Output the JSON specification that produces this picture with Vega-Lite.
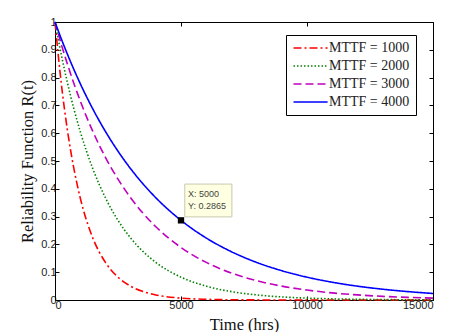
{
  "$schema": "https://vega.github.io/schema/vega-lite/v6.json",
  "width": 378,
  "height": 278,
  "autosize": "none",
  "padding": {"left": 55, "top": 22, "right": 36, "bottom": 32},
  "background": "white",
  "config": {
    "view": {"stroke": "black", "strokeWidth": 1},
    "axis": {"grid": false, "domainColor": "black", "tickColor": "black", "labelFont": "Liberation Sans", "labelFontSize": 11, "labelColor": "#222", "titleFont": "Liberation Serif", "titleFontSize": 16.5, "titleFontWeight": "normal", "titleColor": "#111", "tickSize": -4}
  },
  "resolve": {"axis": {"x": "independent", "y": "independent"}},
  "datasets": {
    "curves": [
      {"t": 0, "R": 1, "s": "MTTF = 1000"},
      {"t": 250, "R": 0.7788, "s": "MTTF = 1000"},
      {"t": 500, "R": 0.6065, "s": "MTTF = 1000"},
      {"t": 750, "R": 0.4724, "s": "MTTF = 1000"},
      {"t": 1000, "R": 0.3679, "s": "MTTF = 1000"},
      {"t": 1500, "R": 0.2231, "s": "MTTF = 1000"},
      {"t": 2000, "R": 0.1353, "s": "MTTF = 1000"},
      {"t": 2500, "R": 0.0821, "s": "MTTF = 1000"},
      {"t": 3000, "R": 0.0498, "s": "MTTF = 1000"},
      {"t": 3500, "R": 0.0302, "s": "MTTF = 1000"},
      {"t": 4000, "R": 0.0183, "s": "MTTF = 1000"},
      {"t": 5000, "R": 0.0067, "s": "MTTF = 1000"},
      {"t": 6000, "R": 0.0025, "s": "MTTF = 1000"},
      {"t": 7000, "R": 0.0009, "s": "MTTF = 1000"},
      {"t": 8000, "R": 0.0003, "s": "MTTF = 1000"},
      {"t": 9000, "R": 0.0001, "s": "MTTF = 1000"},
      {"t": 10000, "R": 0, "s": "MTTF = 1000"},
      {"t": 12000, "R": 0, "s": "MTTF = 1000"},
      {"t": 15000, "R": 0, "s": "MTTF = 1000"},
      {"t": 0, "R": 1, "s": "MTTF = 2000"},
      {"t": 250, "R": 0.8825, "s": "MTTF = 2000"},
      {"t": 500, "R": 0.7788, "s": "MTTF = 2000"},
      {"t": 750, "R": 0.6873, "s": "MTTF = 2000"},
      {"t": 1000, "R": 0.6065, "s": "MTTF = 2000"},
      {"t": 1500, "R": 0.4724, "s": "MTTF = 2000"},
      {"t": 2000, "R": 0.3679, "s": "MTTF = 2000"},
      {"t": 2500, "R": 0.2865, "s": "MTTF = 2000"},
      {"t": 3000, "R": 0.2231, "s": "MTTF = 2000"},
      {"t": 3500, "R": 0.1738, "s": "MTTF = 2000"},
      {"t": 4000, "R": 0.1353, "s": "MTTF = 2000"},
      {"t": 5000, "R": 0.0821, "s": "MTTF = 2000"},
      {"t": 6000, "R": 0.0498, "s": "MTTF = 2000"},
      {"t": 7000, "R": 0.0302, "s": "MTTF = 2000"},
      {"t": 8000, "R": 0.0183, "s": "MTTF = 2000"},
      {"t": 9000, "R": 0.0111, "s": "MTTF = 2000"},
      {"t": 10000, "R": 0.0067, "s": "MTTF = 2000"},
      {"t": 11000, "R": 0.0041, "s": "MTTF = 2000"},
      {"t": 12000, "R": 0.0025, "s": "MTTF = 2000"},
      {"t": 13000, "R": 0.0015, "s": "MTTF = 2000"},
      {"t": 14000, "R": 0.0009, "s": "MTTF = 2000"},
      {"t": 15000, "R": 0.0006, "s": "MTTF = 2000"},
      {"t": 0, "R": 1, "s": "MTTF = 3000"},
      {"t": 250, "R": 0.92, "s": "MTTF = 3000"},
      {"t": 500, "R": 0.8465, "s": "MTTF = 3000"},
      {"t": 750, "R": 0.7788, "s": "MTTF = 3000"},
      {"t": 1000, "R": 0.7165, "s": "MTTF = 3000"},
      {"t": 1500, "R": 0.6065, "s": "MTTF = 3000"},
      {"t": 2000, "R": 0.5134, "s": "MTTF = 3000"},
      {"t": 2500, "R": 0.4346, "s": "MTTF = 3000"},
      {"t": 3000, "R": 0.3679, "s": "MTTF = 3000"},
      {"t": 3500, "R": 0.3114, "s": "MTTF = 3000"},
      {"t": 4000, "R": 0.2636, "s": "MTTF = 3000"},
      {"t": 5000, "R": 0.1889, "s": "MTTF = 3000"},
      {"t": 6000, "R": 0.1353, "s": "MTTF = 3000"},
      {"t": 7000, "R": 0.097, "s": "MTTF = 3000"},
      {"t": 8000, "R": 0.0695, "s": "MTTF = 3000"},
      {"t": 9000, "R": 0.0498, "s": "MTTF = 3000"},
      {"t": 10000, "R": 0.0357, "s": "MTTF = 3000"},
      {"t": 11000, "R": 0.0256, "s": "MTTF = 3000"},
      {"t": 12000, "R": 0.0183, "s": "MTTF = 3000"},
      {"t": 13000, "R": 0.0131, "s": "MTTF = 3000"},
      {"t": 14000, "R": 0.0094, "s": "MTTF = 3000"},
      {"t": 15000, "R": 0.0067, "s": "MTTF = 3000"},
      {"t": 0, "R": 1, "s": "MTTF = 4000"},
      {"t": 250, "R": 0.9394, "s": "MTTF = 4000"},
      {"t": 500, "R": 0.8825, "s": "MTTF = 4000"},
      {"t": 750, "R": 0.829, "s": "MTTF = 4000"},
      {"t": 1000, "R": 0.7788, "s": "MTTF = 4000"},
      {"t": 1500, "R": 0.6873, "s": "MTTF = 4000"},
      {"t": 2000, "R": 0.6065, "s": "MTTF = 4000"},
      {"t": 2500, "R": 0.5353, "s": "MTTF = 4000"},
      {"t": 3000, "R": 0.4724, "s": "MTTF = 4000"},
      {"t": 3500, "R": 0.4169, "s": "MTTF = 4000"},
      {"t": 4000, "R": 0.3679, "s": "MTTF = 4000"},
      {"t": 5000, "R": 0.2865, "s": "MTTF = 4000"},
      {"t": 6000, "R": 0.2231, "s": "MTTF = 4000"},
      {"t": 7000, "R": 0.1738, "s": "MTTF = 4000"},
      {"t": 8000, "R": 0.1353, "s": "MTTF = 4000"},
      {"t": 9000, "R": 0.1054, "s": "MTTF = 4000"},
      {"t": 10000, "R": 0.0821, "s": "MTTF = 4000"},
      {"t": 11000, "R": 0.0639, "s": "MTTF = 4000"},
      {"t": 12000, "R": 0.0498, "s": "MTTF = 4000"},
      {"t": 13000, "R": 0.0388, "s": "MTTF = 4000"},
      {"t": 14000, "R": 0.0302, "s": "MTTF = 4000"},
      {"t": 15000, "R": 0.0235, "s": "MTTF = 4000"}
    ],
    "tip": [
      {"t": 5000, "R": 0.2865, "x0": 5150, "x1": 7020, "y0": 0.299, "y1": 0.417, "tx": 5280, "ty1": 0.381, "ty2": 0.338, "l1": "X: 5000", "l2": "Y: 0.2865"}
    ]
  },
  "layer": [
    {
      "data": {"name": "curves"},
      "mark": {"type": "line", "opacity": 0},
      "encoding": {
        "x": {"field": "t", "type": "quantitative", "scale": {"domain": [0, 15000], "nice": false}, "axis": {"orient": "top", "values": [0, 5000, 10000, 15000], "labels": false, "title": null, "domain": false}},
        "y": {"field": "R", "type": "quantitative", "scale": {"domain": [0, 1], "nice": false}, "axis": {"orient": "right", "values": [0, 0.1, 0.2, 0.3, 0.4, 0.5, 0.6, 0.7, 0.8, 0.9, 1], "labels": false, "title": null, "domain": false}}
      }
    },
    {
      "data": {"name": "curves"},
      "mark": {"type": "line", "interpolate": "monotone", "strokeWidth": 1.6},
      "encoding": {
        "x": {"field": "t", "type": "quantitative", "scale": {"domain": [0, 15000], "nice": false}, "axis": {"values": [0, 5000, 10000, 15000], "format": "d", "title": "Time  (hrs)", "titlePadding": 6, "labelPadding": 3}},
        "y": {"field": "R", "type": "quantitative", "scale": {"domain": [0, 1], "nice": false}, "axis": {"values": [0, 0.1, 0.2, 0.3, 0.4, 0.5, 0.6, 0.7, 0.8, 0.9, 1], "format": "~g", "title": "Reliability Function R(t)", "titlePadding": 5, "labelPadding": 3}},
        "color": {"field": "s", "type": "nominal", "scale": {"domain": ["MTTF = 1000", "MTTF = 2000", "MTTF = 3000", "MTTF = 4000"], "range": ["#ff0000", "#008000", "#bf00bf", "#0000ff"]}, "legend": {"title": null, "orient": "none", "legendX": 231, "legendY": 13, "strokeColor": "black", "fillColor": "white", "padding": 6, "labelFont": "Liberation Serif", "labelFontSize": 14, "labelColor": "#222", "symbolType": "M-1,0H5.2", "symbolSize": 121, "symbolStrokeWidth": 1.6, "rowPadding": 4, "labelOffset": 23}},
        "strokeDash": {"field": "s", "type": "nominal", "scale": {"domain": ["MTTF = 1000", "MTTF = 2000", "MTTF = 3000", "MTTF = 4000"], "range": [[8, 3, 2, 3], [1.5, 2], [8, 4], [1, 0]]}, "legend": {"title": null}}
      }
    },
    {
      "data": {"name": "tip"},
      "mark": {"type": "rect", "fill": "#ffffe1", "stroke": "#c8c8b0", "strokeWidth": 1},
      "encoding": {
        "x": {"field": "x0", "type": "quantitative", "axis": null},
        "x2": {"field": "x1"},
        "y": {"field": "y0", "type": "quantitative", "axis": null},
        "y2": {"field": "y1"}
      }
    },
    {
      "data": {"name": "tip"},
      "mark": {"type": "text", "align": "left", "baseline": "middle", "font": "Liberation Sans", "fontSize": 9, "color": "#444"},
      "encoding": {
        "x": {"field": "tx", "type": "quantitative", "axis": null},
        "y": {"field": "ty1", "type": "quantitative", "axis": null},
        "text": {"field": "l1"}
      }
    },
    {
      "data": {"name": "tip"},
      "mark": {"type": "text", "align": "left", "baseline": "middle", "font": "Liberation Sans", "fontSize": 9, "color": "#444"},
      "encoding": {
        "x": {"field": "tx", "type": "quantitative", "axis": null},
        "y": {"field": "ty2", "type": "quantitative", "axis": null},
        "text": {"field": "l2"}
      }
    },
    {
      "data": {"name": "tip"},
      "mark": {"type": "square", "color": "black", "opacity": 1, "size": 40},
      "encoding": {
        "x": {"field": "t", "type": "quantitative", "axis": null},
        "y": {"field": "R", "type": "quantitative", "axis": null}
      }
    }
  ]
}
